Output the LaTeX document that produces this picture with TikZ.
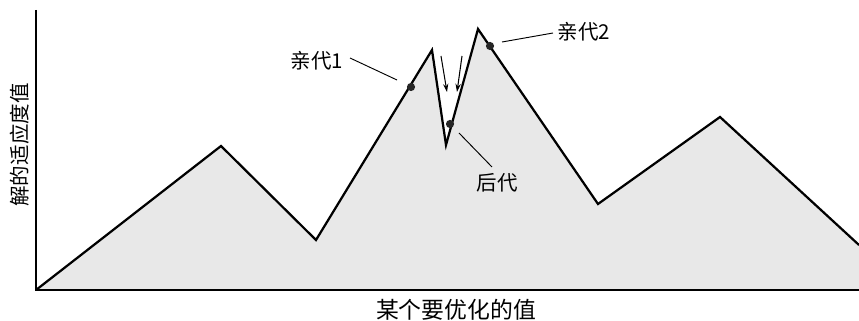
\documentclass[tikz,border=0pt]{standalone}
\usepackage{fontspec}
\newfontfamily\cjk{Noto Sans CJK SC}
\usetikzlibrary{arrows.meta}
\tikzset{
  curve/.style={line width=1.9pt, line join=miter},
  pointer/.style={line width=0.8pt},
  dotmark/.style={circle, fill=black!85, inner sep=0pt, minimum size=7pt},
  lbl/.style={font=\cjk\fontsize{17.5}{20}\selectfont, inner sep=1pt},
  drop/.style={line width=0.9pt, -{Stealth[length=7pt,width=4.5pt]}}
}
\begin{document}
\begin{tikzpicture}[x=0.03cm, y=-0.03cm]
	\useasboundingbox (0,0) rectangle (859,321);
	% points of the fitness landscape
	\coordinate (o) at (36,290);
	\coordinate (top) at (36,10);
	\coordinate (xend) at (859,290);
	\coordinate (p1) at (221,146);
	\coordinate (v1) at (316,240);
	\coordinate (p2) at (432,50);
	\coordinate (v2) at (446,145);
	\coordinate (p3) at (478,29);
	\coordinate (v3) at (598,204);
	\coordinate (p4) at (720,117);
	\coordinate (e) at (859,245);
	\fill[black!9] (o) -- (p1) -- (v1) -- (p2) -- (v2) -- (p3) -- (v3) -- (p4) -- (e) -- (xend) -- cycle;
	\draw[curve] (o) -- (p1) -- (v1) -- (p2) -- (v2) -- (p3) -- (v3) -- (p4) -- (e);
	\draw[line width=1.5pt] (top) -- (o) -- (xend);
	% axis labels
	\node[lbl, rotate=90] (ylab) at (20,145) {解的适应度值};
	\node[lbl, font=\cjk\fontsize{19.5}{22}\selectfont] (xlab) at (456,310) {某个要优化的值};
	% parents and offspring
	\node[dotmark] (par1) at (411,87) {};
	\node[dotmark] (par2) at (490,46) {};
	\node[dotmark] (kid) at (450,124) {};
	\node[lbl] (t1) at (317,61) {亲代1};
	\node[lbl] (t2) at (584,32) {亲代2};
	\node[lbl] (t3) at (497,183) {后代};
	\coordinate (a1) at (350,58);
	\coordinate (b1) at (397,80);
	\coordinate (a2) at (553,33);
	\coordinate (b2) at (502,42);
	\coordinate (a3) at (492,167);
	\coordinate (b3) at (459,133);
	\draw[pointer] (a1) -- (b1);
	\draw[pointer] (a2) -- (b2);
	\draw[pointer] (a3) -- (b3);
	% crossover arrows
	\coordinate (s1) at (441,56);
	\coordinate (d1) at (447,92);
	\coordinate (s2) at (462,56);
	\coordinate (d2) at (457,92);
	\draw[drop] (s1) -- (d1);
	\draw[drop] (s2) -- (d2);
\end{tikzpicture}
\end{document}
